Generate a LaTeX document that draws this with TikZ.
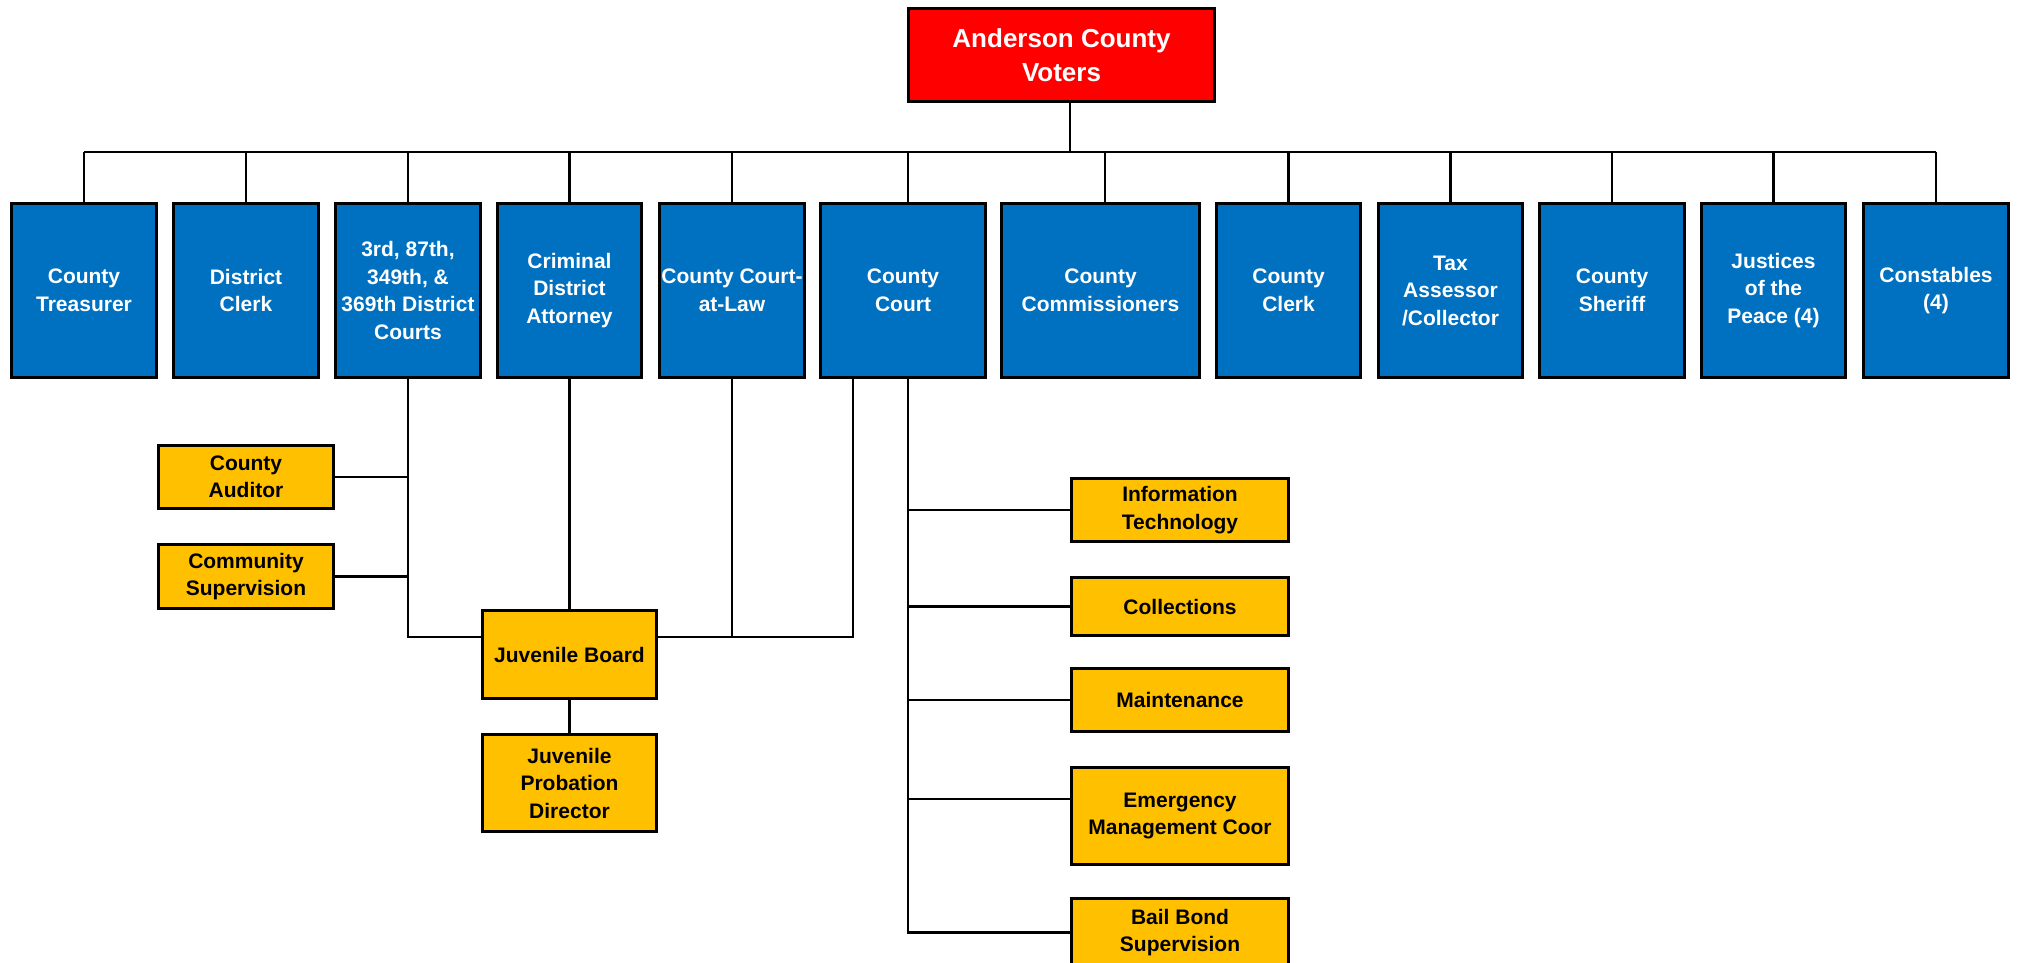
\documentclass[tikz,border=0pt]{standalone}
\usepackage{fontspec}
\setmainfont{Liberation Sans}
\definecolor{cred}{HTML}{FF0000}
\definecolor{cblue}{HTML}{0070C0}
\definecolor{cgold}{HTML}{FFC000}
\begin{document}
\begin{tikzpicture}[x=1pt,y=-1pt,
  box/.style={draw=black, line width=2.8pt, inner sep=0pt, align=center},
  bluebox/.style={box, fill=cblue, text=white, font=\fontsize{21}{27.5}\selectfont\bfseries, minimum height=173.5pt},
  redbox/.style={box, fill=cred, text=white, font=\fontsize{26}{34}\selectfont\bfseries},
  ybox/.style={box, fill=cgold, text=black, font=\fontsize{21}{27.5}\selectfont\bfseries},
  conn/.style={draw=black, line width=2.3pt}]
\clip (0,0) rectangle (2021,962);
\fill[white] (0,0) rectangle (2021,962);

% top
\node[redbox, minimum width=306pt, minimum height=93pt] (voters) at (1061.5,55) {Anderson County\\Voters};

% blue row
\node[bluebox, minimum width=145.5pt] (treas)   at (84,290.5)     {County\\Treasurer};
\node[bluebox, minimum width=145.5pt] (dclerk)  at (246,290.5)    {District\\Clerk};
\node[bluebox, minimum width=145.5pt] (courts)  at (408,290.5)    {3rd, 87th,\\349th, \&\\369th District\\Courts};
\node[bluebox, minimum width=144.5pt] (cda)     at (569.5,290.5)  {Criminal\\District\\Attorney};
\node[bluebox, minimum width=145.5pt] (ccal)    at (732,290.5)    {County Court-\\at-Law};
\node[bluebox, minimum width=165.5pt] (ccourt)  at (903,290.5)    {County\\Court};
\node[bluebox, minimum width=198.5pt] (comm)    at (1100.5,290.5) {County\\Commissioners};
\node[bluebox, minimum width=144.5pt] (cclerk)  at (1288.5,290.5) {County\\Clerk};
\node[bluebox, minimum width=144.5pt] (tax)     at (1450.5,290.5) {Tax\\Assessor\\/Collector};
\node[bluebox, minimum width=145.5pt] (sheriff) at (1612,290.5)   {County\\Sheriff};
\node[bluebox, minimum width=144.5pt] (jp)      at (1773.5,290.5) {Justices\\of the\\Peace (4)};
\node[bluebox, minimum width=145.5pt] (const)   at (1936,290.5)   {Constables\\(4)};

% left yellow boxes
\node[ybox, minimum width=175.5pt, minimum height=63.5pt] (aud)  at (246,477)    {County\\Auditor};
\node[ybox, minimum width=175.5pt, minimum height=64.5pt] (csup) at (246,576.5)  {Community\\Supervision};
\node[ybox, minimum width=174.5pt, minimum height=88.5pt] (jb)   at (569.5,654.5){Juvenile Board};
\node[ybox, minimum width=174.5pt, minimum height=97.5pt] (jpd)  at (569.5,783)  {Juvenile\\Probation\\Director};

% right yellow boxes
\node[ybox, minimum width=217.5pt, minimum height=63.5pt] (it)    at (1180,510)   {Information\\Technology};
\node[ybox, minimum width=217.5pt, minimum height=58.5pt] (coll)  at (1180,606.5) {Collections};
\node[ybox, minimum width=217.5pt, minimum height=63.5pt] (maint) at (1180,700)   {Maintenance};
\node[ybox, minimum width=217.5pt, minimum height=97.5pt] (emerg) at (1180,816)   {Emergency\\Management Coor};
\node[ybox, minimum width=217.5pt, minimum height=68.5pt] (bail)  at (1180,932.5) {Bail Bond\\Supervision};

% helper coordinates
\coordinate (bus) at (0,152);
\coordinate (jbl) at (0,637);
\coordinate (mx) at (908,0);
\coordinate (rx) at (1070,0);
\coordinate (cx) at (1105,0);
\coordinate (lx) at (853,0);
\coordinate (emc) at ([yshift=17pt]emerg.west);

% top connectors
\draw[conn] (rx |- voters.south) -- (rx |- bus);
\draw[conn] (treas.north |- bus) -- (const.north |- bus);
\foreach \n in {treas,dclerk,courts,cda,ccal,cclerk,tax,sheriff,jp,const}
  \draw[conn] (\n.north) -- (\n.north |- bus);
\draw[conn] (mx |- ccourt.north) -- (mx |- bus);
\draw[conn] (cx |- comm.north) -- (cx |- bus);

% lower-left connectors
\draw[conn] (courts.south) -- (courts.south |- jbl) -- (jb.west |- jbl);
\draw[conn] (aud.east) -- (aud.east -| courts.south);
\draw[conn] (csup.east) -- (csup.east -| courts.south);
\draw[conn] (cda.south) -- (jb.north);
\draw[conn] (jb.east |- jbl) -- (lx |- jbl) -- (lx |- ccourt.south);
\draw[conn] (ccal.south) -- (ccal.south |- jbl);
\draw[conn] (jb.south) -- (jpd.north);

% county court departments
\draw[conn] (mx |- ccourt.south) -- (mx |- bail.west) -- (bail.west);
\foreach \n in {it,coll,maint}
  \draw[conn] (mx |- \n.west) -- (\n.west);
\draw[conn] (mx |- emc) -- (emc);
\end{tikzpicture}
\end{document}
